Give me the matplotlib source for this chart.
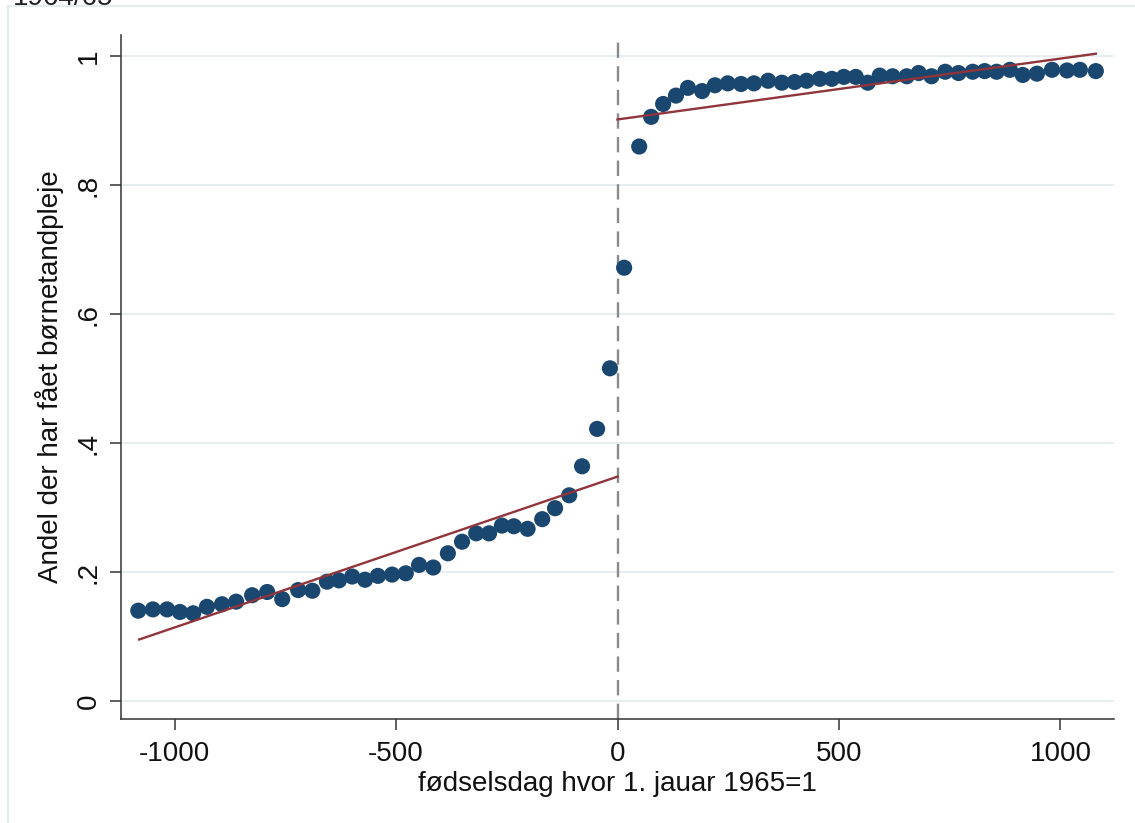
import matplotlib
matplotlib.use("Agg")
import numpy as np
import matplotlib.pyplot as plt
from matplotlib.patches import Rectangle

# binned shares, born before the cut-off (days relative to 1 Jan 1965)
days_before = [-1082, -1049, -1017, -988, -958, -927, -893, -861, -825, -791,
               -757, -721, -689, -656, -629, -599, -570, -541, -509, -478,
               -448, -416, -383, -351, -319, -290, -261, -234, -203, -170,
               -141, -109, -80, -46, -17]
share_before = [0.140, 0.142, 0.142, 0.138, 0.136, 0.146, 0.150, 0.154, 0.164, 0.169,
                0.158, 0.172, 0.171, 0.185, 0.187, 0.193, 0.188, 0.194, 0.196, 0.198,
                0.211, 0.207, 0.229, 0.247, 0.260, 0.260, 0.272, 0.271, 0.267, 0.282,
                0.299, 0.319, 0.364, 0.422, 0.516]

# binned shares, born after the cut-off
days_after = [15, 49, 76, 103, 132, 159, 191, 220, 249, 279,
              308, 340, 371, 400, 427, 457, 484, 511, 538, 565,
              592, 621, 653, 680, 709, 740, 770, 802, 829, 856,
              886, 915, 947, 981, 1015, 1044, 1080]
share_after = [0.672, 0.860, 0.906, 0.926, 0.939, 0.951, 0.946, 0.955, 0.958, 0.957,
               0.958, 0.962, 0.959, 0.960, 0.962, 0.965, 0.965, 0.968, 0.968, 0.959,
               0.970, 0.969, 0.969, 0.974, 0.969, 0.976, 0.974, 0.976, 0.977, 0.976,
               0.979, 0.971, 0.973, 0.979, 0.978, 0.979, 0.977]

# linear fits on each side: intercept at day 0 and slope per day
fit_before = (0.348, 0.000234)
fit_after = (0.902, 0.0000944)
fit_span = 1080

yticks = [0, 0.2, 0.4, 0.6, 0.8, 1.0]
ytick_labels = ["0", ".2", ".4", ".6", ".8", "1"]
xticks = [-1000, -500, 0, 500, 1000]

plt.rcParams["font.family"] = ["Liberation Sans", "DejaVu Sans"]
plt.rcParams["axes.unicode_minus"] = False

navy = "#1a476f"
maroon = "#90353b"

fig = plt.figure(figsize=(11.35, 8.23), dpi=100)
ax = fig.add_axes([121 / 1135, 1 - 719 / 823, 993 / 1135, 684 / 823])

# faint outer frame of the graph region
fig.patches.append(Rectangle((8 / 1135, -0.05), 1.2, 1 - 6 / 823 + 0.05,
                             transform=fig.transFigure, fill=False,
                             edgecolor="#e4ecf0", lw=1.5))
# title line, mostly cut off at the top edge as in the source image
fig.text(13 / 1135, 1 - 5 / 823, "1964/65", fontsize=20, va="baseline",
         ha="left", color="#222222")

for y in yticks:
    ax.axhline(y, color="#e6eef1", lw=1.5, zorder=0)
ax.axvline(0, color="#8a8a8a", lw=1.7, dashes=(6.5, 3.5), zorder=1)

ax.scatter(days_before, share_before, s=135, color=navy, edgecolors="none", zorder=2)
ax.scatter(days_after, share_after, s=135, color=navy, edgecolors="none", zorder=2)

xb = np.array([-fit_span, 0])
xa = np.array([0, fit_span])
ax.plot(xb, fit_before[0] + fit_before[1] * xb, color=maroon, lw=1.7, zorder=3)
ax.plot(xa, fit_after[0] + fit_after[1] * xa, color=maroon, lw=1.7, zorder=3)

ax.set_xlim(-1121, 1121)
ax.set_ylim(-0.028, 1.033)
ax.set_xticks(xticks)
ax.set_yticks(yticks)
ax.set_yticklabels(ytick_labels, rotation=90, va="center")
ax.tick_params(axis="both", direction="out", length=8, width=1.1,
               labelsize=20, color="#333333", labelcolor="#111111")
ax.tick_params(axis="x", pad=8)
ax.tick_params(axis="y", pad=6)

for side in ["top", "right"]:
    ax.spines[side].set_visible(False)
for side in ["left", "bottom"]:
    ax.spines[side].set_linewidth(1.1)
    ax.spines[side].set_color("#333333")

ax.set_xlabel("fødselsdag hvor 1. jauar 1965=1", fontsize=20, labelpad=3, color="#111111")
ax.set_ylabel("Andel der har fået børnetandpleje", fontsize=20, labelpad=8, color="#111111")

fig.savefig("out.png", dpi=100)
